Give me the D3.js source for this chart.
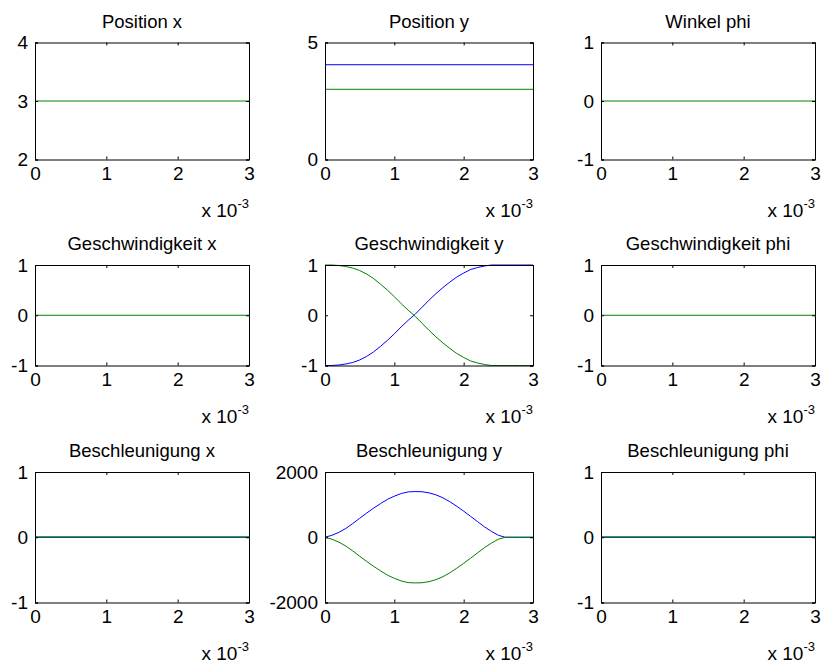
<!DOCTYPE html>
<html>
<head>
<meta charset="utf-8">
<script src="https://cdn.jsdelivr.net/npm/d3@7"></script>
<style>
  body { margin: 0; background: #fff; }
  text { font-family: "Liberation Sans", Arial, sans-serif; fill: #000; }
</style>
</head>
<body>
<div id="fig"></div>
<script>
// time axis in units of 1e-3 s
let tFlat = [0, 3];
let tCurve = [0, 0.1, 0.2, 0.3, 0.4, 0.5, 0.6, 0.7, 0.8, 0.9, 1.0, 1.1, 1.2, 1.3, 1.4, 1.5,
              1.6, 1.7, 1.8, 1.9, 2.0, 2.1, 2.2, 2.3, 2.4, 2.5, 2.6, 2.7, 2.8, 2.9, 3.0];

let titles = ['Position x', 'Position y', 'Winkel phi',
              'Geschwindigkeit x', 'Geschwindigkeit y', 'Geschwindigkeit phi',
              'Beschleunigung x', 'Beschleunigung y', 'Beschleunigung phi'];

let yDomains = [[2, 4], [0, 5], [-1, 1],
                [-1, 1], [-1, 1], [-1, 1],
                [-1, 1], [-2000, 2000], [-1, 1]];
let yTicks = [[2, 3, 4], [0, 5], [-1, 0, 1],
              [-1, 0, 1], [-1, 0, 1], [-1, 0, 1],
              [-1, 0, 1], [-2000, 0, 2000], [-1, 0, 1]];
let xTicks = [0, 1, 2, 3];

// flat series
let posXBlue = [3, 3], posXGreen = [3, 3];
let posYBlue = [4.05, 4.05], posYGreen = [3.0, 3.0];
let phiBlue = [0, 0], phiGreen = [0, 0];
let velXBlue = [0, 0], velXGreen = [0, 0];
let velPhiBlue = [0, 0], velPhiGreen = [0, 0];
let accXBlue = [0, 0], accXGreen = [0, 0];
let accPhiBlue = [0, 0], accPhiGreen = [0, 0];

// velocity y
let velYBlue = [-1.00, -1.00, -0.99, -0.97, -0.94, -0.89, -0.82, -0.73, -0.62, -0.50, -0.37,
                -0.23, -0.10, 0.02, 0.16, 0.30, 0.43, 0.55, 0.66, 0.76, 0.84, 0.91, 0.95,
                0.98, 1.00, 1.00, 1.00, 1.00, 1.00, 1.00, 1.00];
let velYGreen = [1.00, 1.00, 0.99, 0.97, 0.94, 0.89, 0.82, 0.73, 0.62, 0.50, 0.37,
                 0.23, 0.10, -0.02, -0.16, -0.30, -0.43, -0.55, -0.66, -0.76, -0.84, -0.91, -0.95,
                 -0.98, -1.00, -1.00, -1.00, -1.00, -1.00, -1.00, -1.00];

// acceleration y
let accYBlue = [0, 60, 150, 270, 420, 580, 740, 890, 1030, 1160, 1260, 1340, 1390, 1400, 1395,
                1360, 1300, 1210, 1090, 950, 800, 640, 480, 320, 180, 60, 0, 0, 0, 0, 0];
let accYGreen = [0, -60, -150, -270, -420, -580, -740, -890, -1030, -1160, -1260, -1340, -1390,
                 -1400, -1395, -1360, -1300, -1210, -1090, -950, -800, -640, -480, -320, -180,
                 -60, 0, 0, 0, 0, 0];

let series = [
    [[tFlat, posXBlue], [tFlat, posXGreen]],
    [[tFlat, posYBlue], [tFlat, posYGreen]],
    [[tFlat, phiBlue], [tFlat, phiGreen]],
    [[tFlat, velXBlue], [tFlat, velXGreen]],
    [[tCurve, velYBlue], [tCurve, velYGreen]],
    [[tFlat, velPhiBlue], [tFlat, velPhiGreen]],
    [[tFlat, accXBlue], [tFlat, accXGreen]],
    [[tCurve, accYBlue], [tCurve, accYGreen]],
    [[tFlat, accPhiBlue], [tFlat, accPhiGreen]]
];
let colors = ['#0000ff', '#008000'];

let width = 824, height = 663;
let colLeft = [35, 325, 601], colRight = [249, 533, 815];
let rowTop = [42.5, 265, 472], rowBottom = [159.5, 365.5, 602.5];

let svg = d3.select('#fig').append('svg').attr('width', width).attr('height', height);

titles.forEach((title, i) => {
    let r = Math.floor(i / 3), c = i % 3;
    let x = d3.scaleLinear().domain([0, 3]).range([colLeft[c], colRight[c]]);
    let y = d3.scaleLinear().domain(yDomains[i]).range([rowBottom[r], rowTop[r]]);
    let g = svg.append('g');
    let flat = series[i][0][0].length === 2;

    let line = d3.line().x(d => x(d[0])).y(d => y(d[1]));
    series[i].forEach(([ts, vs], k) => {
        // overlapping flat lines: green on top, rows 1-2 hide blue fully
        if (flat && k === 0 && i !== 1 && r < 2) return;
        g.append('path')
            .datum(ts.map((t, j) => [t, vs[j]]))
            .attr('d', line)
            .attr('fill', 'none')
            .attr('stroke', colors[k])
            .attr('stroke-opacity', (flat && r === 2 && k === 1) ? 0.8 : 1)
            .attr('stroke-width', (flat && r === 2) ? 1.3 : 1);
    });

    let fmt = d => String(d);
    let bottom = g.append('g').attr('transform', `translate(0,${rowBottom[r]})`)
        .call(d3.axisBottom(x).tickValues(xTicks).tickSize(-3).tickPadding(7).tickFormat(fmt));
    let top = g.append('g').attr('transform', `translate(0,${rowTop[r]})`)
        .call(d3.axisTop(x).tickValues(xTicks).tickSize(-3).tickFormat(''));
    let left = g.append('g').attr('transform', `translate(${colLeft[c]},0)`)
        .call(d3.axisLeft(y).tickValues(yTicks[i]).tickSize(-3).tickPadding(7).tickFormat(fmt));
    let right = g.append('g').attr('transform', `translate(${colRight[c]},0)`)
        .call(d3.axisRight(y).tickValues(yTicks[i]).tickSize(-3).tickFormat(''));

    [bottom, top, left, right].forEach(a => {
        a.select('.domain').attr('stroke', '#000').attr('stroke-width', 1);
        a.selectAll('.tick line').attr('stroke', '#000');
        a.selectAll('text').attr('font-size', 19).attr('font-family', null).attr('fill', '#000');
    });

    g.append('text')
        .attr('x', (colLeft[c] + colRight[c]) / 2)
        .attr('y', rowTop[r] - 15)
        .attr('text-anchor', 'middle')
        .attr('font-size', 18.5)
        .text(title);

    let ex = g.append('text')
        .attr('x', colRight[c])
        .attr('y', rowBottom[r] + 57)
        .attr('text-anchor', 'end')
        .attr('font-size', 19);
    ex.append('tspan').text('x 10');
    ex.append('tspan').attr('dy', -9).attr('font-size', 13).text('-3');
});
</script>
</body>
</html>
